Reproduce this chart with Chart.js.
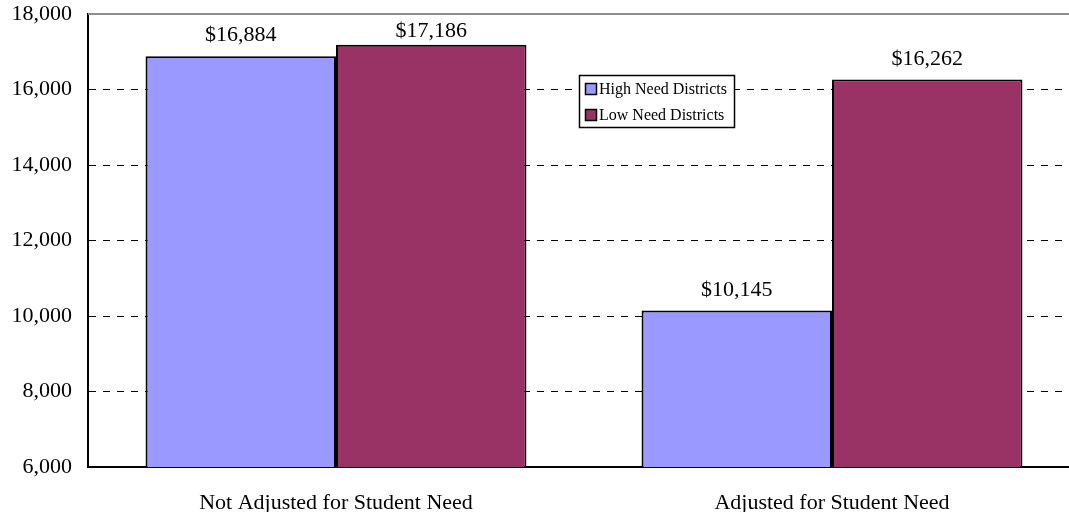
<!DOCTYPE html>
<html>
<head>
<meta charset="utf-8">
<script src="https://cdn.jsdelivr.net/npm/chart.js@4/dist/chart.umd.min.js"></script>
<style>
  html, body { margin: 0; padding: 0; background: #fff; overflow: hidden; }
  #wrap { position: relative; width: 1080px; height: 516px; }
</style>
</head>
<body>
<div id="wrap"><canvas id="c"></canvas></div>
<script>
// Per-pupil spending, high vs. low need districts
const categories = ['Not Adjusted for Student Need', 'Adjusted for Student Need'];
const highNeed = [16884, 10145];
const lowNeed = [17186, 16262];
const seriesNames = ['High Need Districts', 'Low Need Districts'];
const yTicks = [6000, 8000, 10000, 12000, 14000, 16000, 18000];

const SERIF = '"Liberation Serif", "Times New Roman", serif';
const fmt = v => v.toLocaleString('en-US');

// Dollar labels above each bar, kept clear of the top rule
const valueLabels = {
  id: 'valueLabels',
  afterDatasetsDraw(chart) {
    const ctx = chart.ctx;
    const minBase = chart.chartArea.top + 23;
    ctx.save();
    ctx.font = '22px ' + SERIF;
    ctx.fillStyle = '#000';
    ctx.textAlign = 'center';
    ctx.textBaseline = 'alphabetic';
    chart.data.datasets.forEach((ds, i) => {
      chart.getDatasetMeta(i).data.forEach((bar, j) => {
        const yb = Math.max(bar.y - 15, minBase);
        ctx.fillText('$' + fmt(ds.data[j]), bar.x, yb);
      });
    });
    ctx.restore();
  }
};

// Solid grey rule along the top of the plot
const topRule = {
  id: 'topRule',
  beforeDatasetsDraw(chart) {
    const { ctx, chartArea } = chart;
    const y = chart.scales.y.getPixelForValue(yTicks[yTicks.length - 1]);
    ctx.save();
    ctx.strokeStyle = '#8c8c8c';
    ctx.lineWidth = 2;
    ctx.beginPath();
    ctx.moveTo(chartArea.left, y);
    ctx.lineTo(chartArea.right, y);
    ctx.stroke();
    ctx.restore();
  }
};

// Boxed legend floating inside the plot
const boxLegend = {
  id: 'boxLegend',
  afterDraw(chart) {
    const ctx = chart.ctx;
    const x = 579, y = 75, w = 155, h = 52;
    ctx.save();
    ctx.fillStyle = '#fff';
    ctx.fillRect(x, y, w, h);
    ctx.strokeStyle = '#000';
    ctx.lineWidth = 1.5;
    ctx.strokeRect(x + 0.5, y + 0.5, w, h);
    ctx.font = '16px ' + SERIF;
    ctx.textBaseline = 'middle';
    ctx.textAlign = 'left';
    chart.data.datasets.forEach((ds, i) => {
      const cy = y + 14 + i * 26;
      ctx.fillStyle = ds.backgroundColor;
      ctx.fillRect(x + 6, cy - 6, 12, 12);
      ctx.strokeStyle = '#000';
      ctx.lineWidth = 1.5;
      ctx.strokeRect(x + 6.5, cy - 5.5, 11, 11);
      ctx.fillStyle = '#000';
      ctx.fillText(ds.label, x + 20, cy + 1);
    });
    ctx.restore();
  }
};

new Chart(document.getElementById('c'), {
  type: 'bar',
  data: {
    labels: categories,
    datasets: [
      { label: seriesNames[0], data: highNeed, backgroundColor: '#9999FF', borderColor: '#000', borderWidth: 2 },
      { label: seriesNames[1], data: lowNeed, backgroundColor: '#993366', borderColor: '#000', borderWidth: 2 }
    ]
  },
  options: {
    responsive: true,
    maintainAspectRatio: false,
    animation: false,
    devicePixelRatio: 1,
    layout: { padding: { top: 14, right: 0, bottom: 4, left: 0 } },
    datasets: { bar: { categoryPercentage: 0.768, barPercentage: 1 } },
    plugins: { legend: { display: false }, tooltip: { enabled: false } },
    scales: {
      x: {
        afterFit(scale) {
          scale.height = 45;
          scale.paddingLeft = 0; scale.paddingRight = 0;
        },
        grid: { display: false },
        border: { display: true, color: '#000', width: 2 },
        ticks: { color: '#000', font: { family: SERIF, size: 22 }, padding: 15, maxRotation: 0 }
      },
      y: {
        min: 6000,
        max: 18000,
        afterBuildTicks(scale) { scale.ticks = yTicks.map(v => ({ value: v })); },
        afterFit(scale) {
          scale.width = 88;
          scale.paddingTop = 0; scale.paddingBottom = 0;
        },
        grid: {
          drawTicks: false,
          lineWidth: 1,
          color: c => (c.tick && (c.tick.value === 6000 || c.tick.value === 18000)) ? 'rgba(0,0,0,0)' : '#000'
        },
        border: { display: true, color: '#000', width: 2, dash: [7, 7] },
        ticks: {
          color: '#000',
          font: { family: SERIF, size: 22 },
          padding: 16,
          callback: v => fmt(v)
        }
      }
    }
  },
  plugins: [topRule, valueLabels, boxLegend]
});
</script>
</body>
</html>
